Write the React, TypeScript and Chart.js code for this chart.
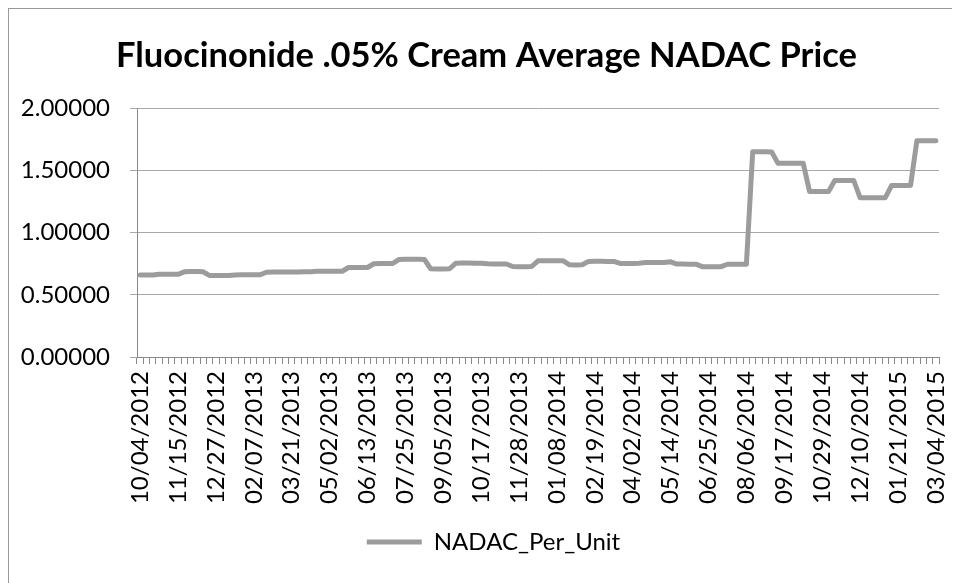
import React, { useEffect, useRef } from "react";
import { Chart, registerables } from "chart.js";

Chart.register(...registerables);

const TITLE = "Fluocinonide .05% Cream Average NADAC Price";
const SERIES_NAME = "NADAC_Per_Unit";

// Weekly NADAC dates (categories)
const dates2012 = [
  "10/04/2012", "10/11/2012", "10/18/2012", "10/25/2012", "11/01/2012", "11/08/2012",
  "11/15/2012", "11/22/2012", "11/29/2012", "12/06/2012", "12/13/2012", "12/20/2012",
  "12/27/2012",
];
const dates2013 = [
  "01/03/2013", "01/10/2013", "01/17/2013", "01/24/2013", "01/31/2013", "02/07/2013",
  "02/14/2013", "02/21/2013", "02/28/2013", "03/07/2013", "03/14/2013", "03/21/2013",
  "03/28/2013", "04/04/2013", "04/11/2013", "04/18/2013", "04/25/2013", "05/02/2013",
  "05/09/2013", "05/16/2013", "05/23/2013", "05/30/2013", "06/06/2013", "06/13/2013",
  "06/20/2013", "06/27/2013", "07/04/2013", "07/11/2013", "07/18/2013", "07/25/2013",
  "08/01/2013", "08/08/2013", "08/15/2013", "08/22/2013", "08/29/2013", "09/05/2013",
  "09/12/2013", "09/19/2013", "09/26/2013", "10/03/2013", "10/10/2013", "10/17/2013",
  "10/24/2013", "10/31/2013", "11/07/2013", "11/14/2013", "11/21/2013", "11/28/2013",
  "12/05/2013", "12/12/2013", "12/19/2013", "12/26/2013",
];
const dates2014 = [
  "01/02/2014", "01/08/2014", "01/15/2014", "01/22/2014", "01/29/2014", "02/05/2014",
  "02/12/2014", "02/19/2014", "02/26/2014", "03/05/2014", "03/12/2014", "03/19/2014",
  "03/26/2014", "04/02/2014", "04/09/2014", "04/16/2014", "04/23/2014", "04/30/2014",
  "05/07/2014", "05/14/2014", "05/21/2014", "05/28/2014", "06/04/2014", "06/11/2014",
  "06/18/2014", "06/25/2014", "07/02/2014", "07/09/2014", "07/16/2014", "07/23/2014",
  "07/30/2014", "08/06/2014", "08/13/2014", "08/20/2014", "08/27/2014", "09/03/2014",
  "09/10/2014", "09/17/2014", "09/24/2014", "10/01/2014", "10/08/2014", "10/15/2014",
  "10/22/2014", "10/29/2014", "11/05/2014", "11/12/2014", "11/19/2014", "11/26/2014",
  "12/03/2014", "12/10/2014", "12/17/2014", "12/24/2014", "12/31/2014",
];
const dates2015 = [
  "01/07/2015", "01/14/2015", "01/21/2015", "01/28/2015", "02/04/2015", "02/11/2015",
  "02/18/2015", "02/25/2015", "03/04/2015",
];

// NADAC_Per_Unit values, aligned with the dates above
const values2012 = [
  0.660, 0.660, 0.660, 0.665, 0.665, 0.665, 0.665, 0.685, 0.688, 0.688, 0.685, 0.655, 0.655,
];
const values2013 = [
  0.655, 0.655, 0.660, 0.662, 0.662, 0.662, 0.662, 0.682, 0.683, 0.683, 0.683, 0.683,
  0.683, 0.685, 0.685, 0.690, 0.690, 0.690, 0.690, 0.690, 0.720, 0.720, 0.720, 0.720,
  0.750, 0.752, 0.752, 0.752, 0.785, 0.787, 0.787, 0.787, 0.785, 0.710, 0.708, 0.708,
  0.710, 0.755, 0.756, 0.756, 0.755, 0.755, 0.750, 0.748, 0.748, 0.748, 0.728, 0.727,
  0.727, 0.728, 0.774, 0.775,
];
const values2014 = [
  0.775, 0.774, 0.774, 0.742, 0.741, 0.742, 0.769, 0.770, 0.770, 0.769, 0.769, 0.753,
  0.752, 0.752, 0.755, 0.760, 0.760, 0.760, 0.760, 0.766, 0.748, 0.748, 0.747, 0.747,
  0.727, 0.726, 0.726, 0.727, 0.746, 0.746, 0.746, 0.746, 1.652, 1.652, 1.652, 1.650,
  1.558, 1.558, 1.558, 1.558, 1.558, 1.332, 1.332, 1.332, 1.332, 1.420, 1.420, 1.420,
  1.420, 1.282, 1.282, 1.282, 1.282,
];
const values2015 = [1.282, 1.380, 1.380, 1.380, 1.380, 1.740, 1.740, 1.740, 1.740];

const Y_MIN = 0;
const Y_MAX = 2;
const Y_STEP = 0.5;
const LABEL_EVERY = 6;

const FONT = "Lato, 'Open Sans', sans-serif";
const LINE_COLOR = "#9c9c9c";

// nudges the title and legend horizontally so they sit where the original places them
const boxShift = {
  id: "boxShift",
  afterLayout(chart: any) {
    const lg = chart.legend;
    if (lg) {
      lg.left += 19.5;
      lg.right += 19.5;
    }
    const tb = chart.titleBlock;
    if (tb) {
      tb.left += 12.5;
      tb.right += 12.5;
    }
  },
};

export default function App() {
  const canvasRef = useRef<HTMLCanvasElement | null>(null);

  useEffect(() => {
    const labels = [...dates2012, ...dates2013, ...dates2014, ...dates2015];
    const data = [...values2012, ...values2013, ...values2014, ...values2015];
    const canvas = canvasRef.current;
    if (!canvas) return;

    const chart = new Chart(canvas, {
      type: "line",
      data: {
        labels,
        datasets: [
          {
            label: SERIES_NAME,
            data,
            borderColor: LINE_COLOR,
            backgroundColor: LINE_COLOR,
            borderWidth: 5,
            pointRadius: 0,
            pointHoverRadius: 0,
            borderJoinStyle: "round",
            borderCapStyle: "round",
            tension: 0,
            fill: false,
          },
        ],
      },
      plugins: [boxShift],
      options: {
        responsive: false,
        animation: false,
        events: [],
        layout: { padding: { left: 0, right: 21, top: 0, bottom: 19 } },
        plugins: {
          title: {
            display: true,
            text: TITLE,
            color: "#000",
            font: { family: FONT, size: 34.5, weight: "bold" },
            padding: { top: 26, bottom: 32 },
          },
          legend: {
            display: true,
            position: "bottom",
            labels: {
              boxWidth: 55,
              boxHeight: 5,
              color: "#000",
              padding: 10,
              font: { family: FONT, size: 24 },
              generateLabels: (ch: any) =>
                Chart.defaults.plugins.legend.labels
                  .generateLabels(ch)
                  .map((it: any) => ({ ...it, lineWidth: 0, fillStyle: LINE_COLOR })),
            },
          },
          tooltip: { enabled: false },
        },
        scales: {
          x: {
            type: "category",
            offset: true,
            grid: {
              display: true,
              drawOnChartArea: false,
              drawTicks: true,
              tickLength: 7,
              color: "#8a8a8a",
              offset: true,
            },
            border: { display: true, color: "#8a8a8a" },
            ticks: {
              autoSkip: false,
              minRotation: 90,
              maxRotation: 90,
              padding: 7,
              color: "#000",
              font: { family: FONT, size: 24 },
              callback: (_v: any, i: number) => (i % LABEL_EVERY === 0 ? labels[i] : ""),
            },
            afterFit: (s: any) => {
              s.height = 163;
              s.paddingLeft = 0;
              s.paddingRight = 0;
            },
          },
          y: {
            min: Y_MIN,
            max: Y_MAX,
            ticks: {
              stepSize: Y_STEP,
              padding: 20,
              color: "#000",
              font: { family: FONT, size: 24 },
              callback: (v: any) => Number(v).toFixed(5),
            },
            grid: { color: "#a8a8a8", tickLength: 7, drawTicks: true },
            border: { display: true, color: "#8a8a8a" },
            afterFit: (s: any) => {
              s.width = 128;
            },
          },
        },
      },
    });
    return () => chart.destroy();
  }, []);

  return (
    <div
      style={{
        width: 951,
        height: 574,
        borderTop: "1px solid #999",
        borderLeft: "1px solid #999",
        background: "#fff",
      }}
    >
      <canvas ref={canvasRef} width={951} height={574} style={{ display: "block" }} />
    </div>
  );
}
